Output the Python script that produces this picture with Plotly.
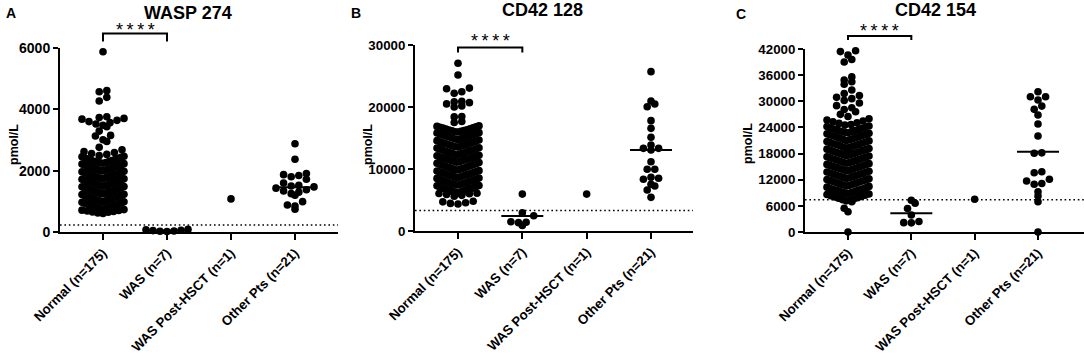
import plotly.graph_objects as go

W, H = 1084, 355
FONT = "Liberation Sans, Arial, sans-serif"

categories = ["Normal (n=175)", "WAS (n=7)", "WAS Post-HSCT (n=1)", "Other Pts (n=21)"]

# ---------------- Panel A : WASP 274 ----------------
normal_a = [
    5880, 4610, 4575, 4390, 4270, 3760, 3730, 3705, 3680, 3640,
    3600, 3565, 3520, 3480, 3430, 3290, 3150, 3130, 3010, 2950,
    2760, 2680, 2620, 2590, 2560, 2530, 2490,
    2470, 2452, 2436, 2410, 2398, 2377, 2362, 2338, 2327, 2306, 2294, 2281, 2263, 2254,
    2243, 2228, 2214, 2193, 2186, 2168, 2152, 2137, 2118, 2109, 2093, 2076, 2068, 2051,
    2042, 2027, 2013, 2004,
    1992, 1978, 1967, 1953, 1942, 1928, 1917, 1901, 1888, 1877, 1862, 1848, 1836, 1821,
    1808, 1797, 1783, 1772, 1761, 1753,
    1746, 1733, 1722, 1712, 1698, 1689, 1677, 1662, 1648, 1641, 1627, 1613, 1602, 1588,
    1579, 1566, 1553, 1542, 1531, 1518, 1509, 1503,
    1494, 1483, 1472, 1458, 1451, 1438, 1427, 1412, 1398, 1391, 1377, 1363, 1352, 1338,
    1331, 1317, 1303, 1292, 1281, 1268, 1262, 1253,
    1246, 1233, 1222, 1208, 1201, 1188, 1176, 1162, 1148, 1141, 1127, 1113, 1102, 1088,
    1079, 1066, 1053, 1042, 1031, 1018, 1009, 1003,
    996, 983, 972, 958, 947, 933, 922, 903, 897, 878, 872, 853, 847, 828, 822, 803,
    797, 778, 772, 758,
    744, 731, 713, 702, 688, 671, 653, 642, 618, 602,
]
was_a = [85, 70, 55, 45, 35, 25, 15]
post_a = [1080]
other_a = [2880, 2370, 1910, 1870, 1840, 1800, 1720, 1600, 1520, 1500, 1470, 1430,
           1380, 1340, 1300, 1250, 1200, 990, 880, 845, 740]
centers_a = [1720, 45, None, 1460]
cutoff_a = 230
yticks_a = [0, 2000, 4000, 6000]

# ---------------- Panel B : CD42 128 ----------------
normal_b = [
    27050, 25150, 23050, 22950, 22450, 22200, 20900, 20850, 20700, 20500, 20150, 20000,
    18450, 18400, 17650, 17500,
    16950, 16870, 16810, 16730, 16640, 16590, 16490, 16430, 16340, 16290, 16190, 16160,
    16070, 16020,
    15960, 15860, 15800, 15690, 15630, 15530, 15470, 15370, 15310, 15210, 15150, 15050,
    14990, 14890, 14830, 14730, 14670, 14570,
    14490, 14390, 14330, 14230, 14170, 14070, 14010, 13910, 13850, 13750, 13690, 13590,
    13530, 13430, 13370, 13270, 13210, 13110, 13050,
    12970, 12870, 12820, 12720, 12670, 12570, 12520, 12420, 12370, 12270, 12220, 12120,
    12070, 11970, 11920, 11820, 11770, 11670, 11620, 11530,
    11480, 11380, 11330, 11230, 11180, 11080, 11030, 10930, 10880, 10780, 10730, 10630,
    10580, 10480, 10430, 10330, 10280, 10180, 10130, 10030,
    9980, 9880, 9830, 9730, 9680, 9580, 9530, 9430, 9380, 9280, 9230, 9130, 9080, 8980,
    8930, 8830, 8780, 8680, 8630, 8530,
    8480, 8390, 8340, 8250, 8200, 8110, 8060, 7970, 7920, 7830, 7780, 7690, 7650, 7570,
    7530, 7450, 7410, 7330, 7290, 7210, 7170, 7090,
    6990, 6910, 6870, 6790, 6750, 6670, 6630, 6550, 6510, 6430, 6390, 6310, 6270, 6190,
    6160, 6090, 6060, 6010,
    5900, 5750, 5600, 4800, 4700, 4550, 4450, 4350,
]
was_b = [5950, 2950, 2450, 1500, 1400, 1350, 900]
post_b = [5950]
other_b = [25700, 20970, 20480, 20050, 17800, 16560, 15110, 13870, 13330, 13330, 13060,
           11180, 9950, 9950, 8660, 8500, 8340, 7530, 7260, 6610, 5430]
centers_b = [11550, 2420, None, 13060]
cutoff_b = 3300
yticks_b = [0, 10000, 20000, 30000]

# ---------------- Panel C : CD42 154 ----------------
normal_c = [
    41600, 41400, 40600, 39600, 39000, 35600, 34900, 34500, 33900, 32600, 31800, 31300,
    30900, 30600, 30200, 29600, 29000, 28500, 28100, 27600, 27000, 26500, 26000,
    25720, 25480, 25310, 25090, 24920, 24680, 24530, 24340, 24210, 24040,
    23910, 23790, 23640, 23530, 23390, 23280, 23140, 23030, 22890, 22780, 22640, 22530,
    22390, 22280, 22140, 22030,
    21910, 21780, 21660, 21510, 21410, 21260, 21160, 21010, 20910, 20760, 20660, 20510,
    20410, 20260, 20160, 20020,
    19920, 19770, 19670, 19510, 19420, 19260, 19170, 19010, 18920, 18760, 18670, 18510,
    18420, 18260, 18170, 18010,
    17930, 17760, 17680, 17510, 17430, 17260, 17180, 17010, 16930, 16760, 16680, 16510,
    16430, 16260, 16180, 16010,
    15940, 15770, 15690, 15520, 15440, 15270, 15190, 15020, 14940, 14770, 14690, 14520,
    14440, 14270, 14190, 14020,
    13950, 13780, 13700, 13530, 13450, 13280, 13200, 13030, 12950, 12780, 12700, 12530,
    12450, 12280, 12200, 12030,
    11960, 11790, 11710, 11540, 11460, 11290, 11210, 11040, 10960, 10790, 10710, 10540,
    10460, 10290, 10210, 10040,
    9970, 9860, 9790, 9680, 9610, 9500, 9430, 9320, 9250, 9140, 9070, 8960, 8890, 8780,
    8710, 8600,
    8460, 8310, 8170, 8020, 7880, 7730, 7590, 7440, 7300, 7150,
    6950, 5450, 4650, 0,
]
was_c = [7300, 6600, 5400, 3900, 2400, 2150, 2100]
post_c = [7500]
other_c = [32200, 31050, 31050, 30300, 28900, 28150, 26850, 24790, 22030, 18170, 18060,
           13830, 13600, 12100, 11700, 11120, 10950, 9250, 8260, 6950, 0]
centers_c = [18500, 4290, None, 18430]
cutoff_c = 7400
yticks_c = [0, 6000, 12000, 18000, 24000, 30000, 36000, 42000]

titles = ["WASP 274", "CD42 128", "CD42 154"]
letters = ["A", "B", "C"]

# layout geometry (pixels)
panels = [
    dict(groups=[normal_a, was_a, post_a, other_a], centers=centers_a, cutoff=cutoff_a,
         yticks=yticks_a, ax0=60, ax1=338, t0=103, t3=295, ybot=232, ytop=48,
         title_xy=(188, 13), letter_xy=(11, 13), ylab_xy=(14, 145), tick_fs=14,
         xtick_fs=13.3, stars_y=30, br_top=33.5, br_bot=41.5),
    dict(groups=[normal_b, was_b, post_b, other_b], centers=centers_b, cutoff=cutoff_b,
         yticks=yticks_b, ax0=415, ax1=693, t0=458, t3=651, ybot=231, ytop=45,
         title_xy=(542, 10), letter_xy=(356, 13), ylab_xy=(368, 145), tick_fs=13.3,
         xtick_fs=13.3, stars_y=41, br_top=47.5, br_bot=52.5),
    dict(groups=[normal_c, was_c, post_c, other_c], centers=centers_c, cutoff=cutoff_c,
         yticks=yticks_c, ax0=805, ax1=1084, t0=848, t3=1038, ybot=232, ytop=49,
         title_xy=(935, 10), letter_xy=(741, 14), ylab_xy=(748, 144), tick_fs=13.3,
         xtick_fs=13.3, stars_y=31, br_top=36, br_bot=40),
]

MARK = 7.6      # marker diameter px
HALF = 21.0     # max half width of a swarm px
STARS = "*\u2009*\u2009*\u2009*"


def swarm(values, center, bin_h, step, max_half):
    vals = sorted(values)
    bins = {}
    for v in vals:
        bins.setdefault(int(v // bin_h), []).append(v)
    xs, ys = [], []
    for b in bins.values():
        n = len(b)
        d = step if n < 2 else min(step, 2 * max_half / (n - 1))
        if n % 2:
            offs = [0] + [s * i for i in range(1, n // 2 + 1) for s in (-1, 1)]
        else:
            offs = [s * (i - 0.5) for i in range(1, n // 2 + 1) for s in (-1, 1)]
        for v, o in zip(b, offs):
            xs.append(center + o * d)
            ys.append(v)
    return xs, ys


fig = go.Figure()
shapes, annotations = [], []

for i, p in enumerate(panels):
    sfx = "" if i == 0 else str(i + 1)
    xa, ya = "x" + sfx, "y" + sfx
    ppu = (p["t3"] - p["t0"]) / 3.0
    xr = [-(p["t0"] - p["ax0"]) / ppu, 3 + (p["ax1"] - p["t3"]) / ppu]
    ymax = p["yticks"][-1]
    upp = ymax / (p["ybot"] - p["ytop"])
    bin_h = MARK * upp
    step = MARK / ppu
    maxhalf = HALF / ppu

    for g, vals in enumerate(p["groups"]):
        xs, ys = swarm(vals, g, bin_h, step, maxhalf)
        fig.add_trace(go.Scatter(x=xs, y=ys, mode="markers", xaxis=xa, yaxis=ya,
                                 marker=dict(size=MARK, color="black", line=dict(width=0)),
                                 cliponaxis=False, showlegend=False, hoverinfo="y"))
        c = p["centers"][g]
        if c is not None:
            fig.add_trace(go.Scatter(x=[g - HALF / ppu, g + HALF / ppu], y=[c, c], mode="lines",
                                     xaxis=xa, yaxis=ya, line=dict(color="black", width=2),
                                     cliponaxis=False, showlegend=False, hoverinfo="skip"))

    # cutoff dotted line
    shapes.append(dict(type="line", xref=xa + " domain", yref=ya, x0=0, x1=1,
                       y0=p["cutoff"], y1=p["cutoff"],
                       line=dict(color="black", width=1.6, dash="1.6px,2.8px")))
    # significance bracket
    yt = 1 - p["br_top"] / H
    yb = 1 - p["br_bot"] / H
    shapes.append(dict(type="path", xref=xa, yref="paper",
                       path=f"M 0,{yb} L 0,{yt} L 1,{yt} L 1,{yb}",
                       line=dict(color="black", width=2)))
    annotations.append(dict(text=STARS, xref=xa, yref="paper", x=0.5,
                            y=1 - p["stars_y"] / H, showarrow=False,
                            xanchor="center", yanchor="middle",
                            font=dict(family=FONT, size=18, color="black")))
    # titles / letters / y-axis labels
    tx, ty = p["title_xy"]
    annotations.append(dict(text="<b>%s</b>" % titles[i], xref="paper", yref="paper",
                            x=tx / W, y=1 - ty / H, showarrow=False,
                            xanchor="center", yanchor="middle",
                            font=dict(family=FONT, size=18, color="black")))
    lx, ly = p["letter_xy"]
    annotations.append(dict(text="<b>%s</b>" % letters[i], xref="paper", yref="paper",
                            x=lx / W, y=1 - ly / H, showarrow=False,
                            xanchor="center", yanchor="middle",
                            font=dict(family=FONT, size=14, color="black")))
    qx, qy = p["ylab_xy"]
    annotations.append(dict(text="<b>pmol/L</b>", xref="paper", yref="paper",
                            x=qx / W, y=1 - qy / H, showarrow=False, textangle=-90,
                            xanchor="center", yanchor="middle",
                            font=dict(family=FONT, size=12.5, color="black")))

    axis_common = dict(showgrid=False, zeroline=False, showline=True, linecolor="black",
                       linewidth=2, ticks="outside", tickcolor="black", tickwidth=2,
                       ticklen=5, automargin=False)
    fig.layout["xaxis" + sfx] = dict(
        axis_common, domain=[p["ax0"] / W, min(p["ax1"] / W, 1.0)], range=xr,
        anchor=ya, tickmode="array", tickvals=[0, 1, 2, 3], ticktext=categories,
        tickangle=-45, ticklen=6,
        tickfont=dict(family=FONT, size=p["xtick_fs"], color="black", weight="bold"))
    fig.layout["yaxis" + sfx] = dict(
        axis_common, domain=[1 - p["ybot"] / H, 1 - p["ytop"] / H], range=[0, ymax],
        anchor=xa, tickmode="array", tickvals=p["yticks"],
        ticktext=[str(v) for v in p["yticks"]],
        tickfont=dict(family=FONT, size=p["tick_fs"], color="black", weight="bold"))

fig.update_layout(width=W, height=H, margin=dict(l=0, r=0, t=0, b=0, autoexpand=False),
                  paper_bgcolor="white", plot_bgcolor="white",
                  shapes=shapes, annotations=annotations, showlegend=False)

fig.write_html("out.html", config={"displayModeBar": False},
               post_script="document.body.style.margin='0';document.body.style.overflow='hidden';")
